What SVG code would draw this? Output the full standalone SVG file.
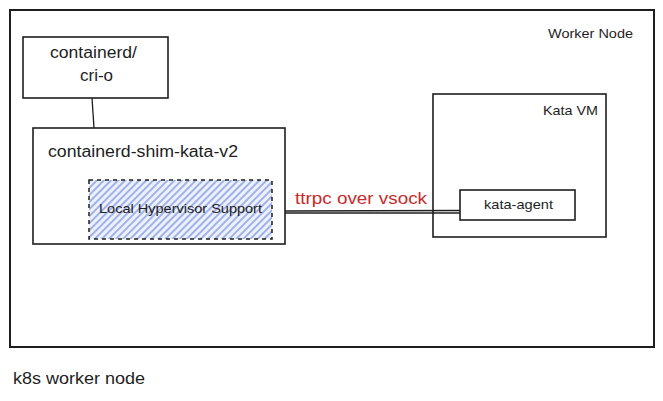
<svg xmlns="http://www.w3.org/2000/svg" width="663" height="401" viewBox="0 0 663 401">
<defs>
<pattern id="hatch" width="5" height="5" patternUnits="userSpaceOnUse" patternTransform="rotate(45)">
<rect width="5" height="5" fill="#eef1fb"/>
<line x1="1" y1="0" x2="1" y2="5" stroke="#7f98e3" stroke-width="1.4"/>
</pattern>
</defs>
<style>
.box{fill:#ffffff;stroke:#1e1e1e;stroke-width:1.6}
.outer{fill:#ffffff;stroke:#1e1e1e;stroke-width:2}
.t{font-family:"Liberation Sans",Arial,sans-serif;fill:#1e1e1e}
.conn{stroke:#1e1e1e;stroke-width:1.3;fill:none}
</style>
<rect width="663" height="401" fill="#ffffff"/>
<g id="worker-node">
<rect class="outer" x="10" y="10" width="644" height="337"/>
<text class="t" x="548" y="38" font-size="13" textLength="85" lengthAdjust="spacingAndGlyphs">Worker Node</text>
</g>
<g id="containerd">
<rect class="box" x="23" y="37" width="145" height="61"/>
<text class="t" x="50" y="58" font-size="16" textLength="87" lengthAdjust="spacingAndGlyphs">containerd/</text>
<text class="t" x="80" y="81" font-size="16" textLength="33" lengthAdjust="spacingAndGlyphs">cri-o</text>
</g>
<g id="shim">
<rect class="box" x="33" y="128" width="252" height="116"/>
<text class="t" x="48" y="157" font-size="16" textLength="190" lengthAdjust="spacingAndGlyphs">containerd-shim-kata-v2</text>
</g>
<g id="local-hypervisor">
<rect x="89" y="180" width="183" height="59" fill="url(#hatch)" stroke="#1e1e1e" stroke-width="1.5" stroke-dasharray="4 4"/>
<text class="t" x="99" y="213" font-size="13" textLength="163" lengthAdjust="spacingAndGlyphs">Local Hypervisor Support</text>
</g>
<g id="kata-vm">
<rect class="box" x="433" y="94" width="173" height="143"/>
<text class="t" x="543" y="115" font-size="13" textLength="55" lengthAdjust="spacingAndGlyphs">Kata VM</text>
</g>
<g id="kata-agent">
<rect class="box" x="460" y="190" width="115" height="30"/>
<text class="t" x="484" y="209" font-size="13" textLength="69" lengthAdjust="spacingAndGlyphs">kata-agent</text>
</g>
<g id="connectors">
<line class="conn" x1="92" y1="98" x2="94" y2="128"/>
<line class="conn" x1="285" y1="211" x2="460" y2="210.5"/>
<line class="conn" x1="285" y1="213" x2="460" y2="213"/>
<text x="295" y="204" font-family="Liberation Sans,Arial,sans-serif" font-size="16" fill="#c92a2a" textLength="132" lengthAdjust="spacingAndGlyphs">ttrpc over vsock</text>
</g>
<text class="t" x="13" y="384" font-size="16" textLength="132" lengthAdjust="spacingAndGlyphs">k8s worker node</text>
</svg>
